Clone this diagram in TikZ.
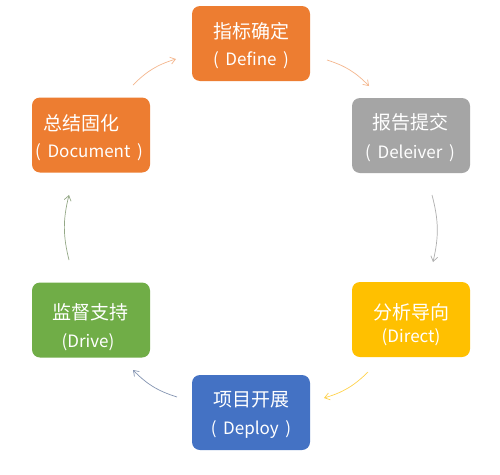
\documentclass[tikz,border=0pt]{standalone}
\usepackage{fontspec}
\setmainfont{Carlito}
\newfontfamily\cjk{Noto Sans CJK SC}
\usetikzlibrary{arrows.meta}
\definecolor{cOrange}{HTML}{ED7D31}
\definecolor{cGray}{HTML}{A5A5A5}
\definecolor{cGreen}{HTML}{70AD47}
\definecolor{cYellow}{HTML}{FFC000}
\definecolor{cBlue}{HTML}{4472C4}
\tikzset{
  stagebox/.style={rounded corners=8pt, minimum width=118pt, minimum height=75pt, inner sep=0pt},
  cntitle/.style={text=white, font=\cjk\fontsize{19}{21}\selectfont, inner sep=0pt},
  entitle/.style={text=white, font=\cjk\fontsize{17}{19}\selectfont, inner sep=0pt},
  cyc/.style={line width=0.7pt, -{Straight Barb[length=5pt,width=7pt]}, bend left=14},
}
\begin{document}
\begin{tikzpicture}[x=1pt,y=-1pt]
\useasboundingbox[fill=white] (0,0) rectangle (500,474);
% boxes
\node[stagebox, fill=cOrange] (define) at (251,43.5) {};
\node[stagebox, fill=cGray] (deliver) at (411,135.5) {};
\node[stagebox, fill=cYellow] (direct) at (411,319.5) {};
\node[stagebox, fill=cBlue] (deploy) at (251,412.5) {};
\node[stagebox, fill=cGreen] (drive) at (91,320) {};
\node[stagebox, fill=cOrange] (document) at (91,135) {};
% texts
\node[cntitle] (t1) at (251,31) {指标确定};
\node[entitle] (e1) at (251,60) {(\ \,Define\ \,)};
\node[cntitle] (t2) at (410,122) {报告提交};
\node[entitle] (e2) at (410,153) {(\ \,Deleiver\ \,)};
\node[cntitle] (t3) at (411,312) {分析导向};
\node[entitle] (e3) at (411,337) {(Direct)};
\node[cntitle] (t4) at (251,400) {项目开展};
\node[entitle] (e4) at (251,430) {(\ \,Deploy\ \,)};
\node[cntitle] (t5) at (90,312) {监督支持};
\node[entitle] (e5) at (88,342) {(Drive)};
\node[cntitle] (t6) at (81,123) {总结固化};
\node[entitle] (e6) at (89,152) {(\ \,Document\ \,)};
% arrow ends
\coordinate (a1s) at (327,60); \coordinate (a1e) at (369,86);
\coordinate (a2s) at (432,195); \coordinate (a2e) at (433,262);
\coordinate (a3s) at (368,372); \coordinate (a3e) at (324,398);
\coordinate (a4s) at (177,397); \coordinate (a4e) at (133,370);
\coordinate (a5s) at (69,260); \coordinate (a5e) at (69,195);
\coordinate (a6s) at (133,85); \coordinate (a6e) at (176,59);
\draw[cyc, draw=cOrange!55] (a1s) to (a1e);
\draw[cyc, draw=cGray!90] (a2s) to (a2e);
\draw[cyc, draw=cYellow!70] (a3s) to (a3e);
\draw[cyc, draw=cBlue!45!gray!80] (a4s) to (a4e);
\draw[cyc, draw=cGreen!40!gray!80] (a5s) to (a5e);
\draw[cyc, draw=cOrange!55] (a6s) to (a6e);
\end{tikzpicture}
\end{document}
